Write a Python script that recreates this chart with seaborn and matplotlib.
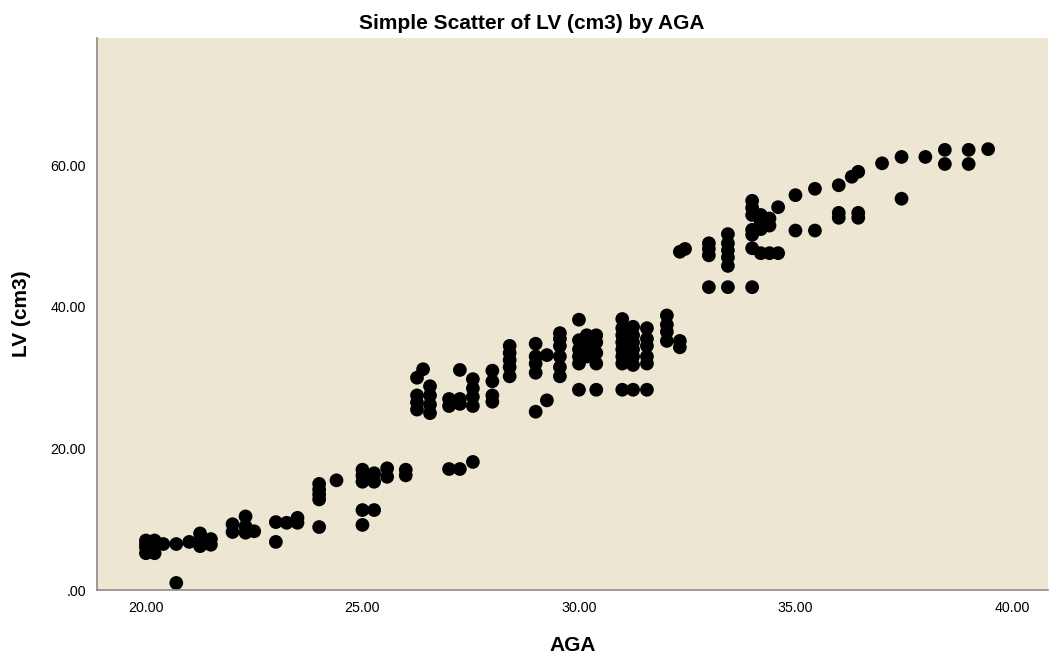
import matplotlib
matplotlib.use("Agg")
import matplotlib.pyplot as plt
import pandas as pd
import seaborn as sns
from matplotlib.ticker import FuncFormatter, MultipleLocator

# values, grouped by AGA level
AGA = (
    [20.0] * 4 + [20.2] * 3 + [20.4] + [20.7] * 2 + [21.0] + [21.25] * 3 + [21.5] * 2
    + [22.0] * 2 + [22.3] * 3 + [22.5] + [23.0] * 2 + [23.25] + [23.5] * 2
    + [24.0] * 5 + [24.4] + [25.0] * 5 + [25.27] * 3 + [25.57] * 2 + [26.0] * 2
    + [26.26] * 4 + [26.4] + [26.56] * 4 + [27.0] * 3 + [27.25] * 4 + [27.55] * 5
    + [28.0] * 4 + [28.4] * 5 + [29.0] * 5 + [29.26] * 2 + [29.56] * 6
    + [30.0] * 6 + [30.18] * 3 + [30.4] * 5 + [31.0] * 8 + [31.25] * 7 + [31.57] * 6
    + [32.03] * 4 + [32.33] * 3 + [32.45] + [33.0] * 4 + [33.44] * 6
    + [34.0] * 7 + [34.2] * 4 + [34.4] * 3 + [34.6] * 2 + [35.0] * 2 + [35.45] * 2
    + [36.0] * 3 + [36.3] + [36.45] * 3 + [37.0] + [37.45] * 2 + [38.0]
    + [38.45] * 2 + [39.0] * 2 + [39.45]
)
LV = [
    5.2, 6.0, 6.5, 7.0, 5.2, 6.2, 7.0, 6.5, 6.5, 1.0, 6.8, 6.2, 7.0, 8.0, 6.4, 7.2,
    8.2, 9.3, 8.1, 9.0, 10.4, 8.3, 9.6, 6.8, 9.5, 9.5, 10.2,
    12.8, 13.5, 14.2, 15.0, 8.9, 15.5, 15.3, 16.2, 17.0, 11.3, 9.2, 15.3, 16.5, 11.3,
    16.0, 17.2, 16.2, 17.0,
    30.0, 25.5, 26.5, 27.5, 31.2, 25.0, 26.2, 27.5, 28.8, 26.0, 27.0, 17.1,
    31.1, 26.3, 27.0, 17.1, 26.0, 27.3, 28.5, 29.8, 18.1,
    26.6, 27.5, 29.5, 31.0, 30.2, 31.5, 32.5, 33.5, 34.5, 30.7, 32.0, 33.0, 34.8, 25.2,
    33.2, 26.8, 30.2, 31.5, 33.0, 34.5, 35.5, 36.3,
    38.2, 32.0, 33.0, 34.0, 35.3, 28.3, 33.0, 34.5, 36.0, 32.0, 33.5, 35.0, 36.0, 28.3,
    32.0, 33.0, 34.0, 35.0, 36.0, 37.0, 38.3, 28.3,
    31.8, 33.0, 34.0, 35.0, 36.0, 37.2, 28.3, 32.0, 33.0, 34.5, 35.5, 37.0, 28.3,
    35.2, 36.5, 37.5, 38.8, 34.3, 35.2, 47.8, 48.2, 47.3, 48.2, 49.0, 42.8,
    45.8, 47.0, 48.0, 49.0, 50.3, 42.8,
    53.0, 54.0, 55.0, 50.9, 50.2, 48.3, 42.8, 51.0, 52.0, 53.0, 47.6, 51.5, 52.5, 47.6,
    54.1, 47.6, 55.8, 50.8, 56.7, 50.8,
    57.2, 53.3, 52.6, 58.4, 59.1, 53.3, 52.6, 60.3, 61.2, 55.3, 61.2,
    62.2, 60.2, 62.2, 60.2, 62.3,
]

TITLE = "Simple Scatter of LV (cm3) by AGA"
X_LABEL = "AGA"
Y_LABEL = "LV (cm3)"


def spss_fmt(value, _pos):
    text = f"{value:.2f}"
    return text[1:] if text.startswith("0.") else text


def main() -> None:
    frame = pd.DataFrame({"AGA": AGA, "LV": LV})

    sns.set_style("white")
    plt.rcParams["font.family"] = ["Liberation Sans", "DejaVu Sans"]
    plt.rcParams["text.color"] = "black"
    plt.rcParams["axes.labelcolor"] = "black"

    fig = plt.figure(figsize=(10.5, 6.55), dpi=100)
    ax = fig.add_axes([0.0924, 0.0992, 0.9056, 0.8427])
    ax.set_facecolor("#ECE6D2")

    sns.scatterplot(data=frame, x="AGA", y="LV", ax=ax, color="black",
                    s=98, edgecolor="none", linewidth=0)

    ax.set_xlim(18.87, 40.83)
    ax.set_ylim(0, 78.0)
    ax.xaxis.set_major_locator(MultipleLocator(5))
    ax.yaxis.set_major_locator(MultipleLocator(20))
    ax.xaxis.set_major_formatter(FuncFormatter(spss_fmt))
    ax.yaxis.set_major_formatter(FuncFormatter(spss_fmt))
    ax.tick_params(axis="both", length=0, labelsize=10.3, colors="black")
    ax.tick_params(axis="x", pad=8)
    ax.tick_params(axis="y", pad=8)

    for side in ("top", "right"):
        ax.spines[side].set_visible(False)
    for side in ("left", "bottom"):
        ax.spines[side].set_color("#8a8a8a")
        ax.spines[side].set_linewidth(1.2)

    ax.set_xlabel(X_LABEL, fontsize=15, fontweight="bold", labelpad=15)
    ax.set_ylabel(Y_LABEL, fontsize=15, fontweight="bold", labelpad=14)
    fig.suptitle(TITLE, x=0.506, y=0.978, fontsize=15, fontweight="bold")

    fig.savefig("out.png", dpi=100)
    plt.close(fig)


if __name__ == "__main__":
    main()
